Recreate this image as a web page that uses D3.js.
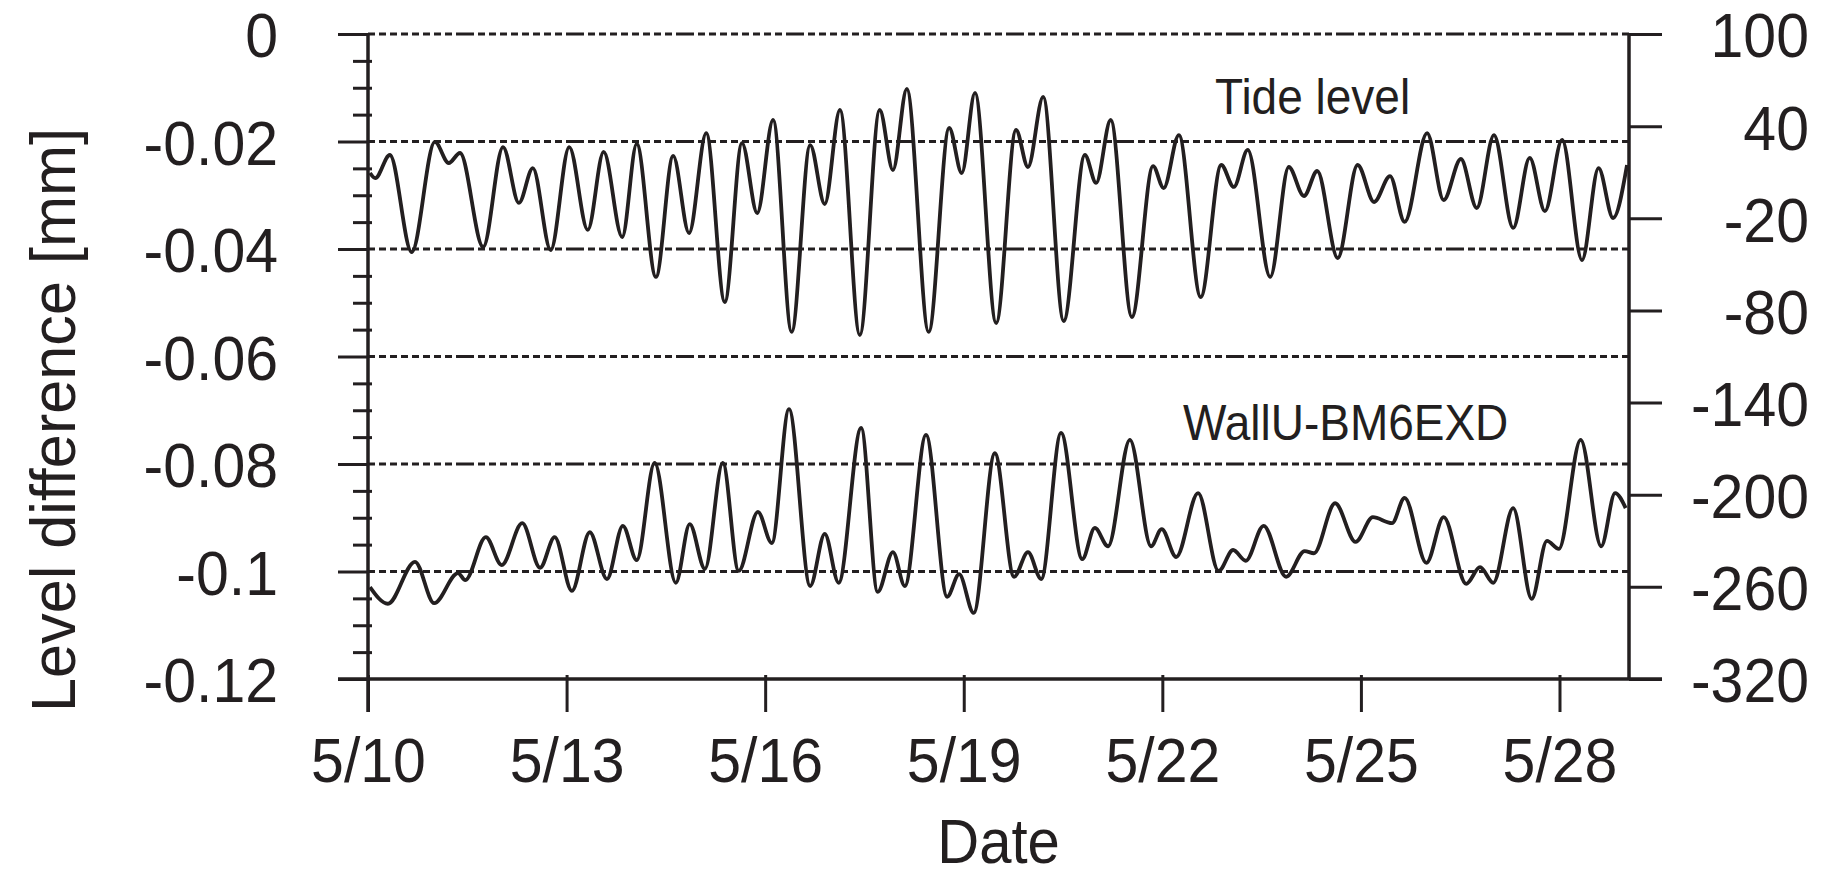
<!DOCTYPE html>
<html>
<head>
<meta charset="utf-8">
<script src="https://cdn.jsdelivr.net/npm/d3@7"></script>
<style>
  body { margin: 0; background: #fff; }
  text { font-family: "Liberation Sans", Arial, Helvetica, sans-serif; fill: #231f20; }
</style>
</head>
<body>
<div id="chart"></div>
<script>
// tide level (right axis), day of May
var tideDays = [10.03,10.11,10.33,10.66,11.01,11.22,11.39,11.74,12.04,12.28,12.49,12.76,13.04,13.32,13.56,13.84,
  14.06,14.35,14.61,14.85,15.11,15.39,15.65,15.88,16.12,16.40,16.68,16.90,17.13,17.43,17.73,17.93,18.14,18.47,
  18.78,18.97,19.17,19.49,19.79,19.97,20.20,20.51,20.83,21.00,21.22,21.54,21.86,22.02,22.25,22.58,22.89,23.08,
  23.29,23.63,23.91,24.14,24.34,24.65,24.95,25.20,25.44,25.66,26.00,26.25,26.51,26.75,27.01,27.30,27.55,27.78,
  28.04,28.34,28.59,28.81,29.02];
var tideLevel = [9.5,6.2,21.2,-42,29.7,16,22.5,-38.7,26.4,-10,12.7,-40.7,26.4,-27.6,23.2,-32.2,
  28.4,-58.2,20.6,-29.6,35.5,-74.5,29,-16.6,44,-94,27.7,-10.7,50.5,-96,50.5,11.4,64.2,-94,
  38.8,9.5,61.6,-88.2,37.5,13.4,59,-86.9,21.2,3,44,-84.3,14,-0.3,34.2,-71.3,14.7,0.4,
  24.5,-58.2,13.4,-5.5,10.8,-45.9,14.7,-9.4,7.5,-22.4,35.5,-8.1,18.6,-13.3,34.2,-26.3,19.3,-15.3,
  31,-47.2,12.7,-19.8,14.7];

// WallU-BM6EXD level difference (left axis, mm)
var wallDays = [10.03,10.30,10.71,11.00,11.36,11.47,11.78,12.02,12.33,12.60,12.82,13.08,13.35,13.61,13.85,14.06,
  14.33,14.65,14.86,15.09,15.36,15.60,15.89,16.10,16.36,16.68,16.90,17.11,17.45,17.70,17.93,18.11,18.43,18.75,
  18.93,19.15,19.47,19.76,19.97,20.17,20.47,20.79,20.98,21.18,21.51,21.83,21.99,22.21,22.54,22.85,23.07,23.26,
  23.53,23.87,24.15,24.29,24.61,24.92,25.18,25.47,25.66,25.99,26.25,26.59,26.80,27.00,27.30,27.58,27.81,27.99,
  28.32,28.63,28.84,29.00];
var wallDiff = [-0.1029,-0.1060,-0.0982,-0.1059,-0.1003,-0.1016,-0.0936,-0.0988,-0.0910,-0.0993,-0.0936,-0.1036,
  -0.0927,-0.1014,-0.0915,-0.0979,-0.0798,-0.1021,-0.0912,-0.0995,-0.0798,-0.0999,-0.0889,-0.0947,
  -0.0698,-0.1027,-0.0930,-0.1021,-0.0733,-0.1038,-0.0964,-0.1027,-0.0746,-0.1047,-0.1005,-0.1077,
  -0.0780,-0.1010,-0.0964,-0.1014,-0.0742,-0.0977,-0.0919,-0.0953,-0.0755,-0.0953,-0.0921,-0.0973,
  -0.0854,-0.0999,-0.0960,-0.0980,-0.0915,-0.1010,-0.0962,-0.0966,-0.0873,-0.0945,-0.0899,-0.0910,
  -0.0863,-0.0984,-0.0899,-0.1023,-0.0992,-0.1021,-0.0882,-0.1051,-0.0943,-0.0958,-0.0755,-0.0953,
  -0.0854,-0.0882];

var dateTicks = [10, 13, 16, 19, 22, 25, 28];
var leftTicks = [0, -0.02, -0.04, -0.06, -0.08, -0.1, -0.12];
var rightTicks = [100, 40, -20, -80, -140, -200, -260, -320];

var width = 1830, height = 875;
var plotL = 368, plotR = 1629, plotT = 34, plotB = 679;
var ink = '#231f20';
var stretch = 'scale(1,1.08)';

var svg = d3.select('#chart').append('svg')
    .attr('width', width)
    .attr('height', height)
    .style('background', '#fff');

var x = d3.scaleLinear().domain([10, 29.05]).range([plotL, plotR]);
var yL = d3.scaleLinear().domain([-0.12, 0]).range([plotB, plotT]);
var yR = d3.scaleLinear().domain([-320, 100]).range([plotB, plotT]);

// dash-dot grid
svg.append('g').selectAll('line')
  .data(leftTicks.filter(function (d) { return d > -0.12; }))
  .enter().append('line')
    .attr('x1', plotL).attr('x2', plotR)
    .attr('y1', function (d) { return yL(d); })
    .attr('y2', function (d) { return yL(d); })
    .attr('stroke', ink)
    .attr('stroke-width', 3)
    .attr('stroke-dasharray', '7,4,7,4,7,4,7,4,7,4,7,4,7,4,7,4,18,4');

// left axis, major + minor ticks
var minor = d3.range(-120, 1, 5).filter(function (d) { return d % 20 !== 0; }).map(function (d) { return d / 1000; });
svg.append('g')
    .attr('transform', 'translate(' + (plotL + 4) + ',0)')
    .call(d3.axisLeft(yL).tickValues(minor).tickSize(19).tickFormat(''))
    .call(function (g) { g.select('.domain').remove(); })
    .selectAll('line').attr('stroke', ink).attr('stroke-width', 3);

var gL = svg.append('g')
    .attr('transform', 'translate(' + plotL + ',0)')
    .call(d3.axisLeft(yL).tickValues(leftTicks).tickSize(30).tickFormat(String));
gL.select('.domain').remove();
gL.selectAll('line').attr('stroke', ink).attr('stroke-width', 3);
gL.selectAll('text')
    .attr('x', -90).attr('dy', '0.36em')
    .attr('text-anchor', 'end')
    .attr('transform', stretch)
    .style('font-size', '59px');

// right axis
var gR = svg.append('g')
    .attr('transform', 'translate(' + plotR + ',0)')
    .call(d3.axisRight(yR).tickValues(rightTicks).tickSize(33).tickFormat(String));
gR.select('.domain').remove();
gR.selectAll('line').attr('stroke', ink).attr('stroke-width', 3);
gR.selectAll('text')
    .attr('x', 180).attr('dy', '0.36em')
    .attr('text-anchor', 'end')
    .attr('transform', stretch)
    .style('font-size', '59px');

// bottom axis
var gB = svg.append('g')
    .attr('transform', 'translate(0,' + (plotB - 4) + ')')
    .call(d3.axisBottom(x).tickValues(dateTicks).tickSize(37).tickFormat(function (d) { return '5/' + d; }));
gB.select('.domain').remove();
gB.selectAll('line').attr('stroke', ink).attr('stroke-width', 3);
gB.selectAll('text')
    .attr('y', 0).attr('dy', 0)
    .attr('transform', 'translate(0,107) ' + stretch)
    .style('font-size', '59px');

// frame lines
function line(x1, y1, x2, y2) {
  svg.append('line')
      .attr('x1', x1).attr('y1', y1)
      .attr('x2', x2).attr('y2', y2)
      .attr('stroke', ink)
      .attr('stroke-width', 3.5);
}
line(plotL, plotT, plotL, plotB + 33);
line(plotL - 30, plotB, plotR + 33, plotB);
line(plotR, plotT, plotR, plotB);

// series
var tideLine = d3.line()
    .x(function (d, i) { return x(tideDays[i]); })
    .y(function (d) { return yR(d); })
    .curve(d3.curveMonotoneX);
var wallLine = d3.line()
    .x(function (d, i) { return x(wallDays[i]); })
    .y(function (d) { return yL(d); })
    .curve(d3.curveMonotoneX);

svg.append('path').datum(tideLevel)
    .attr('d', tideLine)
    .attr('fill', 'none').attr('stroke', ink)
    .attr('stroke-width', 3.8).attr('stroke-linejoin', 'round');
svg.append('path').datum(wallDiff)
    .attr('d', wallLine)
    .attr('fill', 'none').attr('stroke', ink)
    .attr('stroke-width', 3.8).attr('stroke-linejoin', 'round');

// labels
function print(text, px, py, size, anchor) {
  svg.append('text')
      .attr('transform', 'translate(' + px + ',' + py + ') ' + stretch)
      .attr('text-anchor', anchor)
      .style('font-size', size + 'px')
      .text(text);
}
print('Tide level', 1215, 117 - 3, 46, 'start');
print('WallU-BM6EXD', 1183, 443 - 3, 46, 'start');
print('Date', (plotL + plotR) / 2, 866 - 3, 58, 'middle');

svg.append('text')
    .attr('transform', 'translate(75,420) rotate(-90)')
    .attr('text-anchor', 'middle')
    .attr('textLength', 584)
    .attr('lengthAdjust', 'spacingAndGlyphs')
    .style('font-size', '63px')
    .text('Level difference [mm]');
</script>
</body>
</html>
